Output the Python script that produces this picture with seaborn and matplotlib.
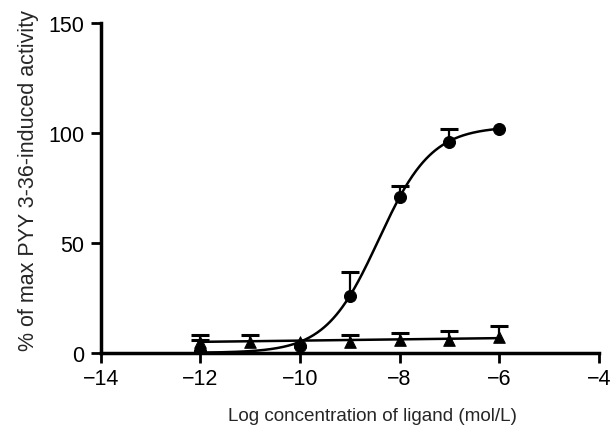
import numpy as np
import pandas as pd
import matplotlib
matplotlib.use("Agg")
import matplotlib.pyplot as plt
import seaborn as sns

# measured points
log_conc = [-12, -11, -10, -9, -8, -7, -6]
circle_x = [-12, -10, -9, -8, -7, -6]
circle_y = [1, 3, 26, 71, 96, 102]
circle_err = [5, 0, 11, 5, 6, 0]
triangle_y = [5, 5, 5, 5, 6, 6, 7]
triangle_err = [3, 3, 0, 3, 3, 4, 5]

# fitted sigmoid parameters (bottom, top, logEC50, hill)
fit_bottom, fit_top, fit_logec50, fit_hill = 0, 103, -8.42, 0.817
# straight fit for triangles
tri_fit_x = [-12, -6]
tri_fit_y = [5, 6.7]

sns.set_style("ticks")
plt.rcParams["font.family"] = ["Liberation Sans", "DejaVu Sans"]

fig = plt.figure(figsize=(6.11, 4.31), dpi=100)
ax = fig.add_axes([0.165, 0.179, 0.815, 0.765])

xs = np.linspace(-12, -6, 300)
curve = pd.DataFrame({
    "x": xs,
    "y": fit_bottom + (fit_top - fit_bottom) / (1 + 10 ** (fit_hill * (fit_logec50 - xs))),
})
sns.lineplot(data=curve, x="x", y="y", color="black", lw=1.8, ax=ax)
sns.lineplot(x=tri_fit_x, y=tri_fit_y, color="black", lw=1.8, ax=ax)


def upper_bars(x, y, err):
    # only the upper half of the SEM bar, with a cap
    d = pd.DataFrame({"x": x, "y": y, "err": err})
    d = d[d.err > 0]
    ax.vlines(d.x, d.y, d.y + d.err, color="black", lw=1.6, zorder=3)
    ax.scatter(d.x, d.y + d.err, marker="_", s=160, linewidths=2.2,
               color="black", zorder=3)


upper_bars(circle_x, circle_y, circle_err)
upper_bars(log_conc, triangle_y, triangle_err)

sns.scatterplot(x=circle_x, y=circle_y, marker="o", s=75, color="black",
                edgecolor="black", ax=ax, zorder=5)
sns.scatterplot(x=log_conc, y=triangle_y, marker="^", s=70, color="black",
                edgecolor="black", ax=ax, zorder=5)

ax.set_xlim(-14, -4)
ax.set_ylim(0, 150)
ax.set_xticks([-14, -12, -10, -8, -6, -4])
ax.set_xticklabels(["\u221214", "\u221212", "\u221210", "\u22128", "\u22126", "\u22124"])
ax.set_yticks([0, 50, 100, 150])
ax.set_xlabel("Log concentration of ligand (mol/L)", fontsize=13.6)
ax.set_ylabel("% of max PYY 3-36-induced activity", fontsize=15.5)
ax.xaxis.set_label_coords(0.546, -0.165)
ax.yaxis.set_label_coords(-0.125, 0.527)
ax.tick_params(labelsize=15.5, width=2, length=7, color="black", labelcolor="black")
ax.tick_params(axis="x", pad=4)
ax.tick_params(axis="y", pad=5)
sns.despine(ax=ax)
for sp in ["left", "bottom"]:
    ax.spines[sp].set_linewidth(2.5)
    ax.spines[sp].set_color("black")

fig.savefig("out.png", dpi=100)
